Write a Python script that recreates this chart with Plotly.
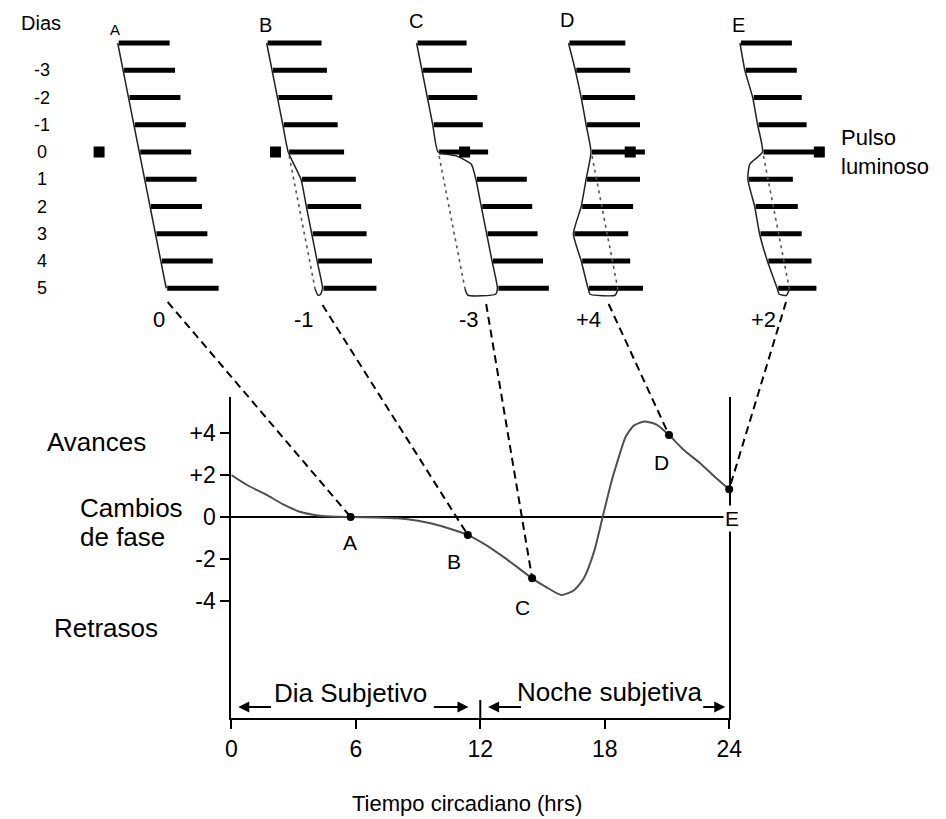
import plotly.graph_objects as go

# ---------------- data ----------------
# Phase response curve (circadian time in hours, phase shift in hours)
CT_HOURS = [0, 0.8, 1.7, 2.5, 3.3, 4.0, 4.8, 5.75, 7.0, 8.0, 9.0, 9.6, 10.5, 11.4,
            12.3, 13.1, 13.8, 14.5, 15.2, 15.9, 16.5, 17.0, 17.5, 17.9, 18.3, 18.6,
            19.0, 19.4, 19.9, 20.5, 21.1, 21.8, 22.6, 23.3, 24.0]
PHASE_SHIFT = [2.0, 1.5, 1.05, 0.6, 0.25, 0.1, 0.02, 0.0, -0.02, -0.06, -0.18, -0.3,
               -0.55, -0.86, -1.35, -1.89, -2.4, -2.92, -3.35, -3.71, -3.5, -2.9, -1.6,
               0.0, 1.6, 2.6, 3.8, 4.35, 4.55, 4.4, 3.9, 3.2, 2.56, 1.92, 1.32]

# Light pulses A-E
PULSE_NAMES = ["A", "B", "C", "D", "E"]
PULSE_CT = [5.75, 11.4, 14.5, 21.1, 24.0]
PULSE_SHIFT = [0.0, -0.86, -2.92, 3.9, 1.32]
SHIFT_LABELS = ["0", "-1", "-3", "+4", "+2"]

# Actogram days
DAYS = [-4, -3, -2, -1, 0, 1, 2, 3, 4, 5]
DAY_TEXT = ["", "-3", "-2", "-1", "0", "1", "2", "3", "4", "5"]

# Activity onset / offset per day for each actogram (relative units)
ONSETS = [
    [0, 5.5, 11, 16.5, 22, 27.5, 33, 38.5, 44, 49.5],
    [0, 5.5, 11, 16.5, 22, 35, 40.5, 46, 51.5, 57],
    [0, 5.5, 11, 16.5, 22, 60.5, 66, 71.5, 77, 82.5],
    [0, 7, 13, 18, 23, 18, 13, 5, 13, 20],
    [0, 5, 13, 18, 23, 8, 15, 20, 28, 38],
]
OFFSETS = [
    [52, 57.5, 63, 68.5, 74, 79.5, 85, 90.5, 96, 102],
    [55, 60.5, 66, 71.5, 78, 90, 95.5, 101, 106.5, 111],
    [50, 55.5, 61, 66.5, 72, 111.5, 117, 122.5, 128, 134],
    [57, 62, 67, 72, 77, 72, 65, 60, 62, 75],
    [52, 57, 62, 67, 80, 53, 58, 62, 72, 77],
]
PULSE_OFFSET = [-42, -14, 26, 39, 57]

X_TICKS = [0, 6, 12, 18, 24]
Y_TICKS = [4, 2, 0, -2, -4]
Y_TICK_TEXT = ["+4", "+2", "0", "-2", "-4"]
DAY_NIGHT_BOUNDARY = 12

# ---------------- layout constants ----------------
W, H = 946, 819
FONT = "Liberation Sans, Arial, sans-serif"
X0_PX, X24_PX = 230.0, 738.0
Y0_PX, PX_PER_UNIT = 517.0, 21.0
YTOP_PX, XAXIS_PX = 397.0, 718.0
PX_PER_H = (X24_PX - X0_PX) / 24.0


def ux(px):
    return (px - X0_PX) / PX_PER_H


def uy(py):
    return (Y0_PX - py) / PX_PER_UNIT


def xp(px):
    return px / W


def yp(py):
    return 1 - py / H


PANEL_X0 = [115, 267, 420, 575, 750]
ROW_TOP_PX, ROW_STEP_PX = 43.0, 27.25
NORMAL_SLOPE = (ONSETS[0][-1] - ONSETS[0][0]) / (len(DAYS) - 1)


def row_y(day):
    return ROW_TOP_PX + ROW_STEP_PX * (day - DAYS[0])


fig = go.Figure()

# ---- PRC curve ----
fig.add_trace(go.Scatter(x=CT_HOURS, y=PHASE_SHIFT, mode="lines",
                         line=dict(color="#505050", width=2, shape="spline", smoothing=0.6),
                         xaxis="x", yaxis="y", hoverinfo="skip", showlegend=False))
# CT12 boundary mark
fig.add_trace(go.Scatter(x=[DAY_NIGHT_BOUNDARY, DAY_NIGHT_BOUNDARY],
                         y=[uy(700), uy(XAXIS_PX)], mode="lines",
                         line=dict(color="black", width=2),
                         xaxis="x", yaxis="y", hoverinfo="skip", showlegend=False))

# ---- actograms ----
i0 = DAYS.index(0)
for p in range(5):
    x0 = PANEL_X0[p]
    on, off = ONSETS[p], OFFSETS[p]
    # bars
    bx, by = [], []
    for i, d in enumerate(DAYS):
        bx += [ux(x0 + on[i]), ux(x0 + off[i]), None]
        by += [uy(row_y(d)), uy(row_y(d)), None]
    fig.add_trace(go.Scatter(x=bx, y=by, mode="lines", line=dict(color="black", width=5),
                             xaxis="x2", yaxis="y2", hoverinfo="skip", showlegend=False))
    # onset line
    pts = [(x0 + on[i] - 1, row_y(DAYS[i])) for i in range(i0 + 1)]
    a4 = x0 + on[i0] - 1
    a5 = x0 + on[i0 + 1] - 1
    y4, y5 = row_y(0), row_y(1)
    if a5 - a4 > 15:  # large delay: curved transition
        pts += [(a4 + 0.5 * (a5 - a4), y4 + 0.15 * (y5 - y4)),
                (a4 + 0.88 * (a5 - a4), y4 + 0.45 * (y5 - y4))]
    elif a4 - a5 > 10:  # advance with bulge
        pts += [(a5 + 2, y4 + 0.45 * (y5 - y4))]
    pts += [(x0 + on[i] - 1, row_y(DAYS[i])) for i in range(i0 + 1, len(DAYS))]
    expected9 = x0 + on[i0] + NORMAL_SLOPE * (len(DAYS) - 1 - i0) - 1
    a9 = x0 + on[-1] - 1
    y9 = row_y(DAYS[-1])
    shifted = abs(expected9 - a9) > 2
    if shifted:
        s = 1 if expected9 > a9 else -1
        pts += [(a9 + s * 2, y9 + 6), (expected9 - s * 3, y9 + 7), (expected9, y9 + 1)]
    fig.add_trace(go.Scatter(x=[ux(q[0]) for q in pts], y=[uy(q[1]) for q in pts],
                             mode="lines",
                             line=dict(color="#222", width=1.5, shape="spline", smoothing=0.5),
                             xaxis="x2", yaxis="y2", hoverinfo="skip", showlegend=False))
    if shifted:
        fig.add_trace(go.Scatter(x=[ux(a4 + 1), ux(expected9)], y=[uy(y4 + 4), uy(y9 + 1)],
                                 mode="lines",
                                 line=dict(color="#555", width=1.6, dash="3px,4px"),
                                 xaxis="x2", yaxis="y2", hoverinfo="skip", showlegend=False))
    # light pulse
    fig.add_trace(go.Scatter(x=[ux(x0 + on[i0] + PULSE_OFFSET[p])], y=[uy(y4)], mode="markers",
                             marker=dict(symbol="square", size=11, color="black"),
                             xaxis="x2", yaxis="y2", hoverinfo="skip", showlegend=False))

# ---- connectors from actograms to PRC points ----
CONN_START = [(165, 302), (323, 305), (490, 304), (615, 304), (796, 302)]
for p in range(5):
    sx, sy = CONN_START[p]
    fig.add_trace(go.Scatter(x=[ux(sx), PULSE_CT[p]], y=[uy(sy), PULSE_SHIFT[p]],
                             mode="lines", line=dict(color="black", width=2, dash="8px,5px"),
                             xaxis="x2", yaxis="y2", hoverinfo="skip", showlegend=False))

# PRC points
fig.add_trace(go.Scatter(x=PULSE_CT, y=PULSE_SHIFT, mode="markers",
                         marker=dict(color="black", size=8),
                         xaxis="x2", yaxis="y2", hoverinfo="skip", showlegend=False))

# ---------------- annotations ----------------
ann = []


def txt(text, x, y, size, xanchor="center", bg=None, align="center"):
    d = dict(text=text, x=xp(x), y=yp(y), xref="paper", yref="paper", showarrow=False,
             xanchor=xanchor, yanchor="middle", align=align,
             font=dict(family=FONT, size=size, color="black"))
    if bg:
        d["bgcolor"] = bg
    ann.append(d)


txt("Dias", 36, 23, 20)
for d, t in zip(DAYS, DAY_TEXT):
    if t:
        txt(t, 37, row_y(d), 18)

LETTER_POS = [(111, 30, 15), (265, 25, 20), (418, 21, 20), (572, 20, 20), (748, 25, 20)]
for name, (lx, ly, ls) in zip(PULSE_NAMES, LETTER_POS):
    txt(name, lx, ly, ls)

SHIFT_LABEL_X = [156, 304, 472, 594, 773]
for t, lx in zip(SHIFT_LABELS, SHIFT_LABEL_X):
    txt(t, lx, 320, 22)

txt("Pulso<br>luminoso", 850, 152, 22, xanchor="left", align="left")

txt("Avances", 92, 442, 26)
txt("Cambios", 73, 508, 26, xanchor="left")
txt("de fase", 73, 537, 26, xanchor="left")
txt("Retrasos", 102, 628, 26)
txt("Dia Subjetivo", 352, 693, 26)
txt("Noche subjetiva", 616, 692, 26)
txt("Tiempo circadiano (hrs)", 470, 803, 22)

# PRC point labels
LABEL_SHIFT = [(-1, -25), (-14, -26), (-10, -29), (-8, -27), (3, -29)]
for name, t, v, (dx, dy) in zip(PULSE_NAMES, PULSE_CT, PULSE_SHIFT, LABEL_SHIFT):
    d = dict(text=name, x=t, y=v, xref="x", yref="y", showarrow=False,
             xshift=dx, yshift=dy, font=dict(family=FONT, size=21, color="black"))
    if name == "E":
        d["bgcolor"] = "white"
    ann.append(d)

# day / night arrows
ARROW_Y = uy(707)
for tip, tail in [(237, 272), (472, 435), (492, 527), (734, 710)]:
    ann.append(dict(x=ux(tip), y=ARROW_Y, ax=ux(tail), ay=ARROW_Y, xref="x", yref="y",
                    axref="x", ayref="y", text="", showarrow=True, arrowhead=2,
                    arrowsize=1.1, arrowwidth=2, arrowcolor="black"))

axis_font = dict(family=FONT, size=23, color="black")
fig.update_layout(
    width=W, height=H, autosize=False, margin=dict(l=0, r=0, t=0, b=0, pad=0),
    paper_bgcolor="white", plot_bgcolor="rgba(0,0,0,0)",
    showlegend=False, annotations=ann,
    xaxis=dict(domain=[xp(X0_PX), xp(X24_PX)], range=[0, 24], tickvals=X_TICKS,
               ticks="outside", ticklen=9, tickwidth=2, tickcolor="black",
               showline=True, linewidth=2, linecolor="black", showgrid=False,
               zeroline=False, tickfont=axis_font, anchor="y", fixedrange=True),
    yaxis=dict(domain=[yp(XAXIS_PX), yp(YTOP_PX)], range=[uy(XAXIS_PX), uy(YTOP_PX)],
               tickvals=Y_TICKS, ticktext=Y_TICK_TEXT, ticks="outside", ticklen=9,
               tickwidth=2, tickcolor="black", showline=True, linewidth=2,
               linecolor="black", mirror=True, showgrid=False, zeroline=True,
               zerolinecolor="black", zerolinewidth=2, tickfont=axis_font,
               anchor="x", fixedrange=True),
    xaxis2=dict(domain=[0, 1], range=[ux(0), ux(W)], visible=False, anchor="y2",
                fixedrange=True),
    yaxis2=dict(domain=[0, 1], range=[uy(H), uy(0)], visible=False, anchor="x2",
                fixedrange=True),
)

POST = (
    "document.documentElement.style.margin='0';"
    "document.body.style.margin='0';document.body.style.padding='0';"
    "document.body.style.overflow='hidden';"
    "var gd=document.getElementById('{plot_id}');"
    "gd.style.position='absolute';gd.style.left='0px';gd.style.top='0px';"
    "Plotly.relayout(gd,{width:%d,height:%d,autosize:false});" % (W, H)
)

fig.write_html("out.html", config={"responsive": False, "displayModeBar": False},
               post_script=POST)
